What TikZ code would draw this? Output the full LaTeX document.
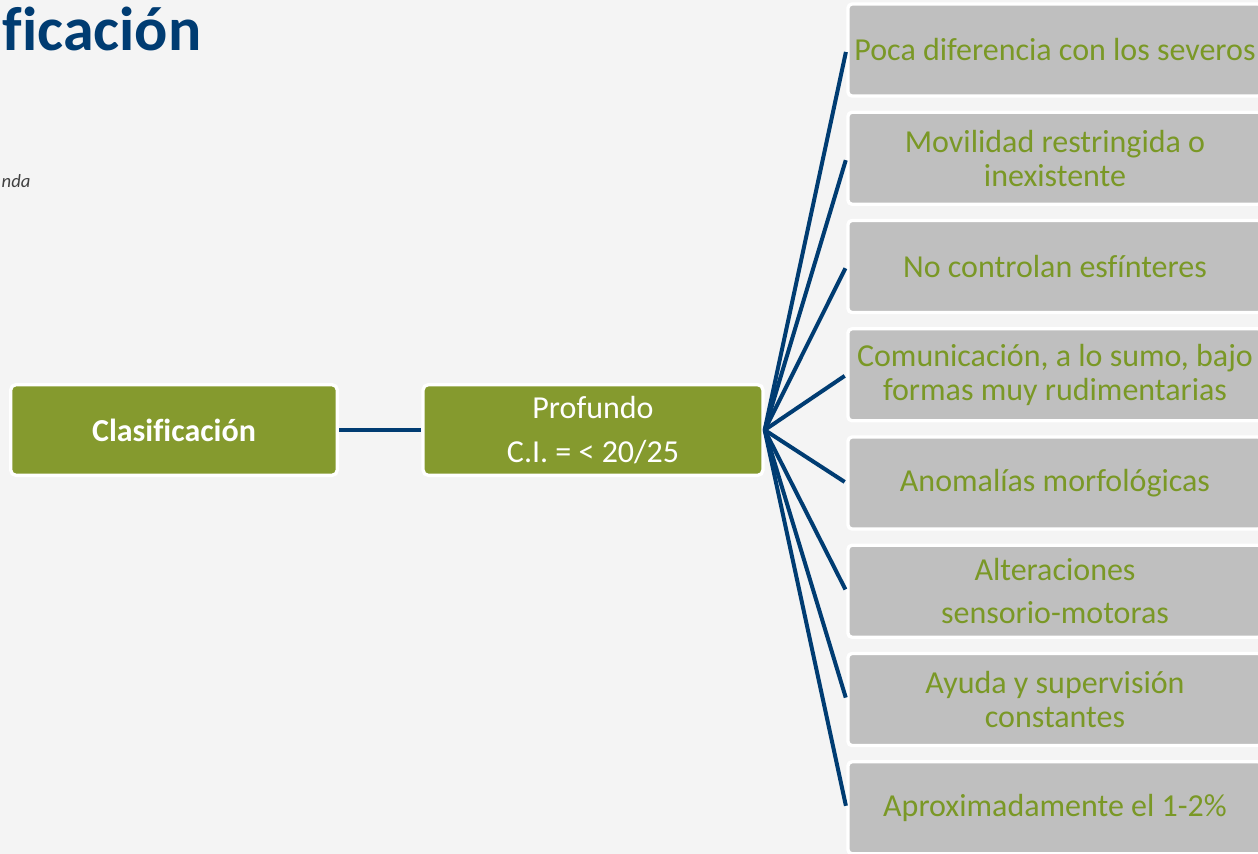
\documentclass[tikz,border=0pt]{standalone}
\usepackage{fontspec}
\setmainfont[Ligatures=NoCommon]{Carlito}
\usepackage{tikz}
\usetikzlibrary{positioning}
\definecolor{olive2}{RGB}{133,154,46}
\definecolor{navy2}{RGB}{0,60,114}
\definecolor{grey2}{RGB}{191,191,191}
\definecolor{green3}{RGB}{122,152,38}
\definecolor{paper}{RGB}{244,244,244}

\begin{document}
\begin{tikzpicture}[x=0.75pt, y=-0.75pt,
    mainbox/.style={rectangle, rounded corners=4pt, fill=olive2, draw=white, line width=2.5pt,
        text=white, align=center, minimum height=68pt, font=\fontsize{24}{25.5}\selectfont},
    itembox/.style={rectangle, rounded corners=3pt, fill=grey2, draw=white, line width=2.5pt,
        text=green3, align=center, minimum width=310.5pt, minimum height=69pt, font=\fontsize{24}{25.5}\selectfont},
    link/.style={navy2, line width=3pt}]
	\fill[paper] (0,0) rectangle (1258,854);
	\useasboundingbox (0,0) rectangle (1258,854);

	\node[anchor=base west, navy2, font=\fontsize{46.5}{52}\selectfont\bfseries] (title) at (-2,50) {ficación};
	\node[anchor=base west, black!75, font=\fontsize{14}{17}\selectfont\itshape] (note) at (-3,187) {nda};

	\node[mainbox, minimum width=245pt, font=\fontsize{24}{25.5}\selectfont\bfseries] (clas) at (174,430) {Clasificación};
	\node[mainbox, minimum width=255pt] (prof) at (593,430) {Profundo\\[8pt]C.I. = < 20/25};
	\draw[link] (clas.east) -- (prof.west);

	\foreach \itemtext [count=\i] in {Poca diferencia con los severos, {Movilidad restringida o\\inexistente}, No controlan esfínteres, {Comunicación, a lo sumo, bajo\\formas muy rudimentarias}, Anomalías morfológicas, {Alteraciones\\[7pt]sensorio-motoras}, {Ayuda y supervisión\\constantes}, Aproximadamente el 1-2\%} {
		\node[itembox] (item\i) at (1055, {50+(\i-1)*108.25}) {\itemtext};
		\draw[link, shorten >=1.5pt] (prof.east) -- (item\i.west);
	}
\end{tikzpicture}
\end{document}
